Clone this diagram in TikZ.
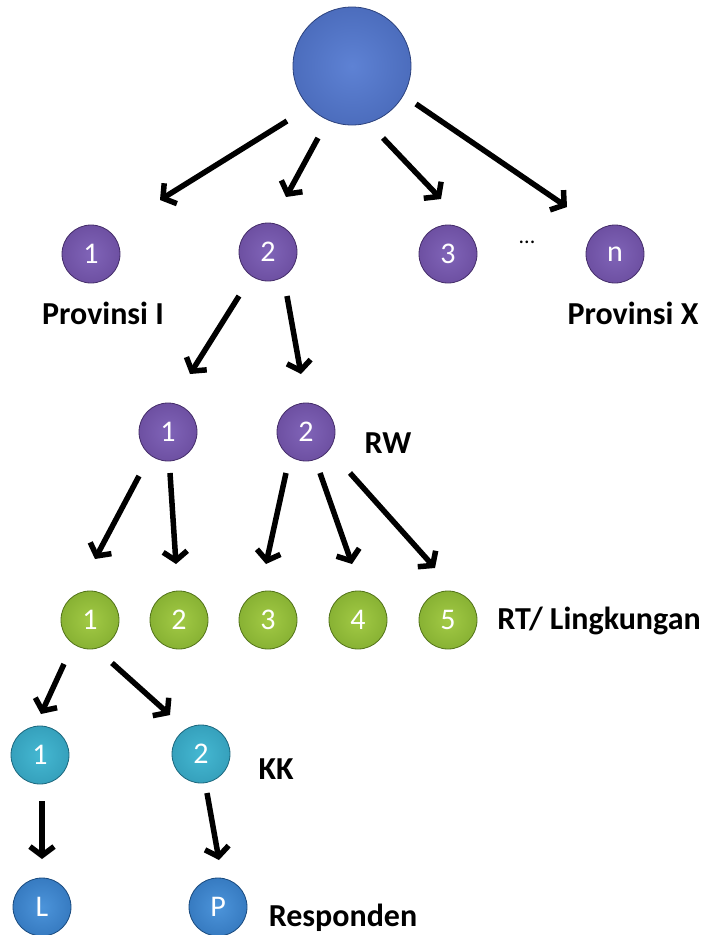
\documentclass[tikz,border=0pt]{standalone}
\usepackage{fontspec}
\setmainfont{Carlito}
\usetikzlibrary{arrows.meta,calc}

\definecolor{rootin}{HTML}{5E82D4}
\definecolor{rootout}{HTML}{3A58A6}
\definecolor{provin}{HTML}{8064B8}
\definecolor{provout}{HTML}{5B3C8C}
\definecolor{rtin}{HTML}{A2CA45}
\definecolor{rtout}{HTML}{6E9A22}
\definecolor{kkin}{HTML}{45B8D2}
\definecolor{kkout}{HTML}{2689A6}
\definecolor{respin}{HTML}{4C94DA}
\definecolor{respout}{HTML}{2262A8}

\begin{document}
\begin{tikzpicture}[x=1pt,y=-1pt,
  ball/.style 2 args={circle, minimum size=58pt, inner sep=0pt,
    draw=#2!75!black, line width=0.8pt, text=white,
    font=\fontsize{30}{30}\selectfont,
    path picture={\shade[inner color=#1, outer color=#2]
      let \p1=($(path picture bounding box.north east)-(path picture bounding box.center)$)
      in (path picture bounding box.center) circle ({2*\x1});}},
  lbl/.style={font=\bfseries\fontsize{32}{32}\selectfont},
  arr/.style={line width=5.5pt, -{Straight Barb[length=9pt,width=24pt]}}]

\useasboundingbox (0,0) rectangle (702,935);

% draw the balls
\node (root) [ball={rootin}{rootout}, minimum size=118pt] at (352,66) {};

\node (prov1) [ball={provin}{provout}] at (91,254) {1};
\node (prov2) [ball={provin}{provout}] at (268,252) {2};
\node (prov3) [ball={provin}{provout}] at (448,254) {3};
\node (provn) [ball={provin}{provout}] at (615,254) {n};
\node (dots) [font=\fontsize{22}{22}\selectfont] at (527,242) {...};

\node (rw1) [ball={provin}{provout}] at (168,432) {1};
\node (rw2) [ball={provin}{provout}] at (306,432) {2};

\node (rt1) [ball={rtin}{rtout}] at (90,620) {1};
\node (rt2) [ball={rtin}{rtout}] at (179,620) {2};
\node (rt3) [ball={rtin}{rtout}] at (268,620) {3};
\node (rt4) [ball={rtin}{rtout}] at (358,620) {4};
\node (rt5) [ball={rtin}{rtout}] at (448,620) {5};

\node (kk1) [ball={kkin}{kkout}] at (40,755) {1};
\node (kk2) [ball={kkin}{kkout}] at (201,754) {2};

\node (respL) [ball={respin}{respout}] at (42,907) {L};
\node (respP) [ball={respin}{respout}] at (218,907) {P};

% draw the labels
\node (lprovI) [lbl] at (103,313) {Provinsi I};
\node (lprovX) [lbl] at (633,313) {Provinsi X};
\node (lrw) [lbl] at (388,443) {RW};
\node (lrt) [lbl] at (599,621) {RT/ Lingkungan};
\node (lkk) [lbl] at (276,769) {KK};
\node (lresp) [lbl] at (343,918) {Responden};

% arrow ends
\coordinate (r_1) at (287,121);  \coordinate (p_1) at (160,200);
\coordinate (r_2) at (318,138);  \coordinate (p_2) at (286,197);
\coordinate (r_3) at (383,138);  \coordinate (p_3) at (441,199);
\coordinate (r_n) at (416,104);  \coordinate (p_n) at (567,207);

\coordinate (v_1) at (239,296);  \coordinate (w_1) at (190,374);
\coordinate (v_2) at (287,296);  \coordinate (w_2) at (301,374);

\coordinate (s_1) at (139,476);  \coordinate (t_1) at (95,559);
\coordinate (s_2) at (170,473);  \coordinate (t_2) at (176,564);
\coordinate (s_3) at (286,473);  \coordinate (t_3) at (266,564);
\coordinate (s_4) at (320,473);  \coordinate (t_4) at (352,564);
\coordinate (s_5) at (350,473);  \coordinate (t_5) at (435,568);

\coordinate (f_1) at (64,664);   \coordinate (k_1) at (41,714);
\coordinate (f_2) at (112,663);  \coordinate (k_2) at (170,715);

\coordinate (g_1) at (42,801);   \coordinate (e_1) at (42,859);
\coordinate (g_2) at (207,793);  \coordinate (e_2) at (219,860);

% draw the arrows
\draw [arr] (r_1) -- (p_1);
\draw [arr] (r_2) -- (p_2);
\draw [arr] (r_3) -- (p_3);
\draw [arr] (r_n) -- (p_n);

\draw [arr] (v_1) -- (w_1);
\draw [arr] (v_2) -- (w_2);

\draw [arr] (s_1) -- (t_1);
\draw [arr] (s_2) -- (t_2);
\draw [arr] (s_3) -- (t_3);
\draw [arr] (s_4) -- (t_4);
\draw [arr] (s_5) -- (t_5);

\draw [arr] (f_1) -- (k_1);
\draw [arr] (f_2) -- (k_2);

\draw [arr] (g_1) -- (e_1);
\draw [arr] (g_2) -- (e_2);

\end{tikzpicture}
\end{document}
